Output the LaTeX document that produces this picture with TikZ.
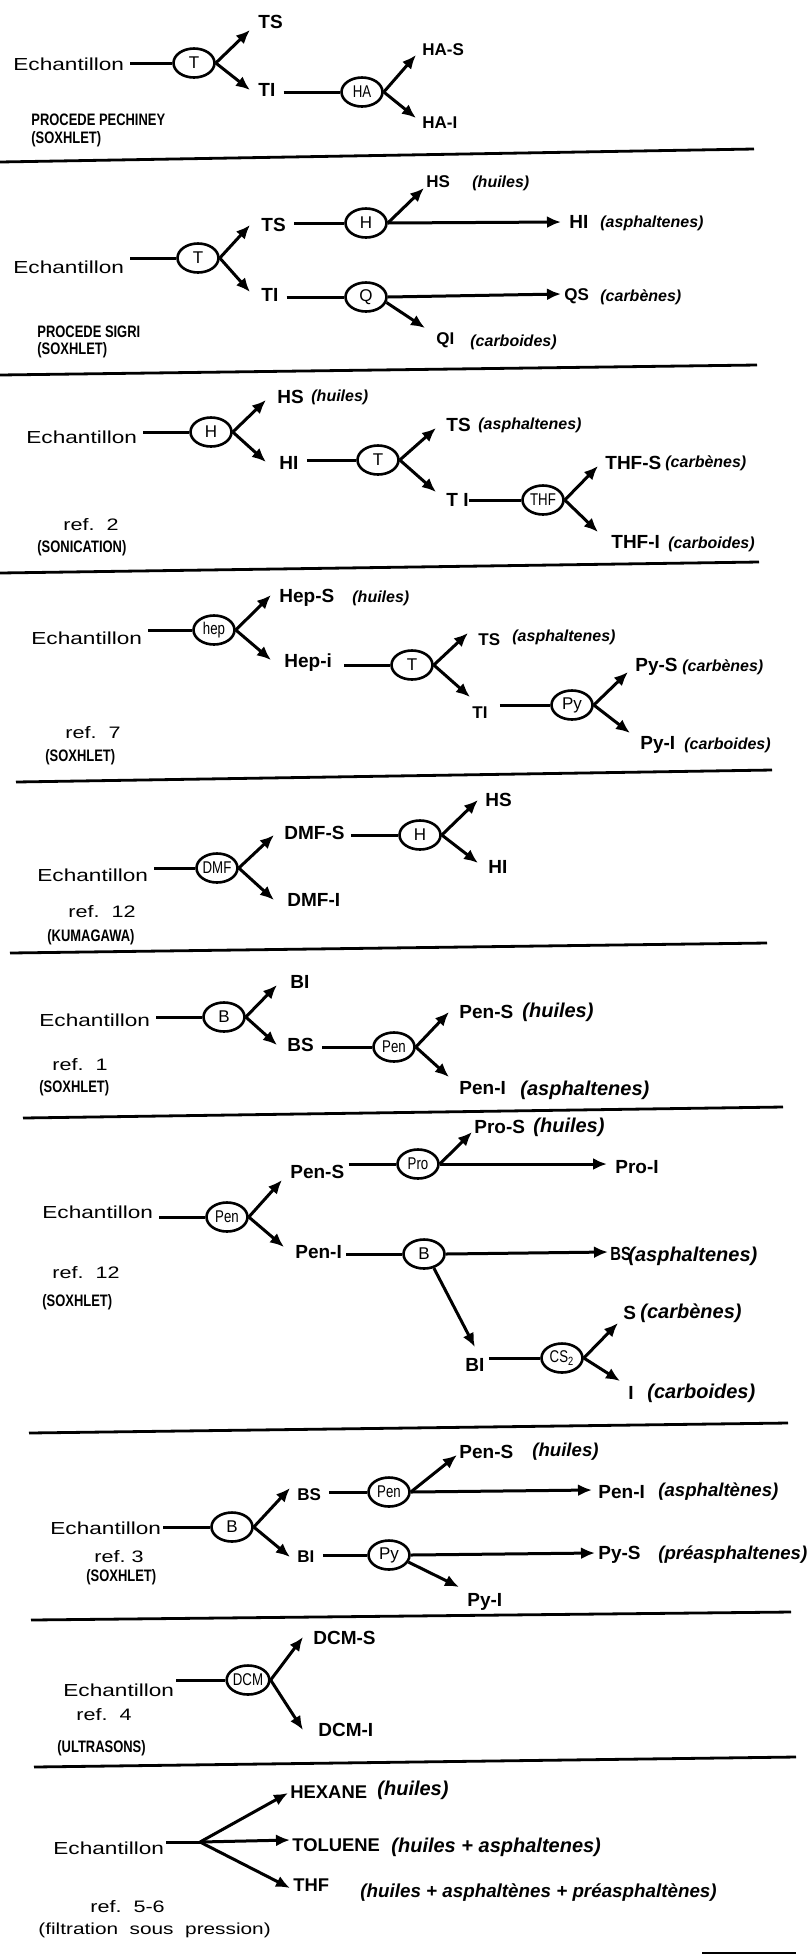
\documentclass[tikz,border=0pt]{standalone}
\usepackage{fontspec}
\setmainfont{Liberation Sans}
\newfontfamily\narrowsans{Liberation Sans}[FakeStretch=0.78]
\newfontfamily\widesans{Liberation Sans}[FakeStretch=1.3]
\usetikzlibrary{arrows.meta,shapes.geometric}
\begin{document}
\begin{tikzpicture}[x=0.5pt,y=-0.5pt,
 ln/.style={line width=1.5pt},
 arr/.style={line width=1.5pt,-{Latex[length=7pt,width=6pt]}},
 solv/.style={ellipse,draw,line width=1.3pt,minimum width=20.5pt,minimum height=14.5pt,inner sep=0pt,font=\fontsize{8.5}{9}\selectfont},
 solvn/.style={solv,font=\narrowsans\fontsize{8.5}{9}\selectfont},
 ech/.style={anchor=west,inner sep=0pt,font=\widesans\fontsize{8.7}{10}\selectfont},
 prod/.style={anchor=west,inner sep=0pt,font=\bfseries\fontsize{9.5}{11}\selectfont},
 prods/.style={anchor=west,inner sep=0pt,font=\bfseries\fontsize{8.5}{10}\selectfont},
 note/.style={anchor=west,inner sep=0pt,font=\bfseries\itshape\fontsize{8}{10}\selectfont},
 noteL/.style={anchor=west,inner sep=0pt,font=\bfseries\itshape\fontsize{10}{11}\selectfont},
 noteM/.style={anchor=west,inner sep=0pt,font=\bfseries\itshape\fontsize{9.3}{11}\selectfont},
 proc/.style={anchor=west,inner sep=0pt,font=\narrowsans\bfseries\fontsize{8.3}{10}\selectfont},
 refl/.style={anchor=west,inner sep=0pt,font=\widesans\fontsize{8.3}{10}\selectfont},
 divider/.style={line width=1.4pt}]
\useasboundingbox (0,0) rectangle (808,1955);

% ---------- Section 1 ----------
\node[ech] (E1) at (13,64) {Echantillon};
\node[solv] (T1) at (194,63) {T};
\node[prod] (TS1) at (258,22) {TS};
\node[prod] (TI1) at (258,90) {TI};
\node[solvn] (HA1) at (362,92) {HA};
\node[prods] (HAS1) at (422,50) {HA-S};
\node[prods] (HAI1) at (422,123) {HA-I};
\node[proc] (P1a) at (31,120) {PROCEDE PECHINEY};
\node[proc] (P1b) at (31,139) {(SOXHLET)};
\draw[ln,shorten <=3pt] (E1.east |- T1) -- (T1.west);
\draw[arr] (T1.east) -- ([shift={(-8,8)}]TS1.west);
\draw[arr] (T1.east) -- ([shift={(-8,0)}]TI1.west);
\draw[ln,shorten <=4pt] (TI1.east |- HA1) -- (HA1.west);
\draw[arr] (HA1.east) -- ([shift={(-6,5)}]HAS1.west);
\draw[arr] (HA1.east) -- ([shift={(-6,-5)}]HAI1.west);
\draw[divider] (0,162) -- (754,149);

% ---------- Section 2 ----------
\node[ech] (E2) at (13,267) {Echantillon};
\node[solv] (T2) at (198,258) {T};
\node[prod] (TS2) at (261,225) {TS};
\node[prod] (TI2) at (261,295) {TI};
\node[solv] (H2) at (366,223) {H};
\node[prods] (HS2) at (426,182) {HS};
\node[note] (n2a) at (472,183) {(huiles)};
\node[prod] (HI2) at (569,222) {HI};
\node[note] (n2b) at (600,223) {(asphaltenes)};
\node[solv] (Q2) at (366,297) {Q};
\node[prods] (QS2) at (564,296) {QS};
\node[note] (n2c) at (600,297) {(carbènes)};
\node[prods] (QI2) at (436,340) {QI};
\node[note] (n2d) at (470,342) {(carboides)};
\node[proc] (P2a) at (37,332) {PROCEDE SIGRI};
\node[proc] (P2b) at (37,350) {(SOXHLET)};
\draw[ln,shorten <=3pt] (E2.east |- T2) -- (T2.west);
\draw[arr] (T2.east) -- ([shift={(-11,0)}]TS2.west);
\draw[arr] (T2.east) -- ([shift={(-11,-3)}]TI2.west);
\draw[ln,shorten <=4pt] (TS2.east |- H2) -- (H2.west);
\draw[ln,shorten <=4pt] (TI2.east |- Q2) -- (Q2.west);
\draw[arr] (H2.east) -- ([shift={(-2,6)}]HS2.west);
\draw[arr] (H2.east) -- ([shift={(-8,0)}]HI2.west);
\draw[arr] (Q2.east) -- ([shift={(-3,-2)}]QS2.west);
\draw[arr] (Q2.-15) -- ([shift={(-11,-12)}]QI2.west);
\draw[divider] (0,375) -- (757,365);

% ---------- Section 3 ----------
\node[ech] (E3) at (26,437) {Echantillon};
\node[solv] (H3) at (211,432) {H};
\node[prod] (HS3) at (277,397) {HS};
\node[note] (n3a) at (311,397) {(huiles)};
\node[prod] (HI3) at (279,463) {HI};
\node[solv] (T3) at (378,460) {T};
\node[prod] (TS3) at (446,425) {TS};
\node[note] (n3b) at (478,425) {(asphaltenes)};
\node[prod] (TI3) at (446,500) {T I};
\node[solvn] (THF3) at (543,500) {THF};
\node[prod] (THFS3) at (605,463) {THF-S};
\node[note] (n3c) at (665,463) {(carbènes)};
\node[prod] (THFI3) at (611,542) {THF-I};
\node[note] (n3d) at (668,544) {(carboides)};
\node[refl] (R3a) at (63,525) {ref.\ \ 2};
\node[proc] (R3b) at (37,548) {(SONICATION)};
\draw[ln,shorten <=3pt] (E3.east |- H3) -- (H3.west);
\draw[arr] (H3.east) -- ([shift={(-11,3)}]HS3.west);
\draw[arr] (H3.east) -- ([shift={(-13,-1)}]HI3.west);
\draw[ln,shorten <=4pt] (HI3.east |- T3) -- (T3.west);
\draw[arr] (T3.east) -- ([shift={(-10,3)}]TS3.west);
\draw[arr] (T3.east) -- ([shift={(-10,-8)}]TI3.west);
\draw[ln] (TI3.east |- THF3) -- (THF3.west);
\draw[arr] (THF3.east) -- ([shift={(-7,3)}]THFS3.west);
\draw[arr] (THF3.east) -- ([shift={(-13,-10)}]THFI3.west);
\draw[divider] (0,573) -- (759,562);

% ---------- Section 4 ----------
\node[ech] (E4) at (31,638) {Echantillon};
\node[solvn] (HEP4) at (214,630) {hep};
\node[prod] (HepS4) at (279,598) {Hep-S};
\node[note] (n4a) at (352,598) {(huiles)};
\node[prod] (Hepi4) at (284,663) {Hep-i};
\node[solv] (T4) at (412,665) {T};
\node[prods] (TS4) at (478,640) {TS};
\node[note] (n4b) at (512,637) {(asphaltenes)};
\node[prods] (TI4) at (472,713) {TI};
\node[solv] (Py4) at (572,705) {Py};
\node[prod] (PyS4) at (635,667) {Py-S};
\node[note] (n4c) at (682,667) {(carbènes)};
\node[prod] (PyI4) at (640,745) {Py-I};
\node[note] (n4d) at (684,745) {(carboides)};
\node[refl] (R4a) at (65,733) {ref.\ \ 7};
\node[proc] (R4b) at (45,757) {(SOXHLET)};
\draw[ln,shorten <=3pt] (E4.east |- HEP4) -- (HEP4.west);
\draw[arr] (HEP4.east) -- ([shift={(-8,-3)}]HepS4.west);
\draw[arr] (HEP4.east) -- ([shift={(-13,-3)}]Hepi4.west);
\draw[ln,shorten <=6pt] (Hepi4.east |- T4) -- (T4.west);
\draw[arr] (T4.east) -- ([shift={(-10,-7)}]TS4.west);
\draw[arr] (T4.east) -- ([shift={(-2,-16)}]TI4.west);
\draw[ln,shorten <=6pt] (TI4.east |- Py4) -- (Py4.west);
\draw[arr] (Py4.east) -- ([shift={(-7,5)}]PyS4.west);
\draw[arr] (Py4.east) -- ([shift={(-10,-12)}]PyI4.west);
\draw[divider] (16,782) -- (772,770);

% ---------- Section 5 ----------
\node[ech] (E5) at (37,875) {Echantillon};
\node[solvn] (DMF5) at (217,868) {DMF};
\node[prod] (DMFS5) at (284,833) {DMF-S};
\node[prod] (DMFI5) at (287,900) {DMF-I};
\node[solv] (H5) at (420,835) {H};
\node[prod] (HS5) at (485,800) {HS};
\node[prod] (HI5) at (488,867) {HI};
\node[refl] (R5a) at (68,912) {ref.\ \ 12};
\node[proc] (R5b) at (47,937) {(KUMAGAWA)};
\draw[ln,shorten <=3pt] (E5.east |- DMF5) -- (DMF5.west);
\draw[arr] (DMF5.east) -- ([shift={(-10,2)}]DMFS5.west);
\draw[arr] (DMF5.east) -- ([shift={(-13,0)}]DMFI5.west);
\draw[ln,shorten <=3pt] (DMFS5.east |- H5) -- (H5.west);
\draw[arr] (H5.east) -- ([shift={(-7,0)}]HS5.west);
\draw[arr] (H5.east) -- ([shift={(-10,-4)}]HI5.west);
\draw[divider] (10,953) -- (767,943);

% ---------- Section 6 ----------
\node[ech] (E6) at (39,1020) {Echantillon};
\node[solv] (B6) at (224,1017) {B};
\node[prod] (BI6) at (290,982) {BI};
\node[prod] (BS6) at (287,1045) {BS};
\node[solvn] (Pen6) at (394,1047) {Pen};
\node[prod] (PenS6) at (459,1012) {Pen-S};
\node[noteL] (n6a) at (522,1012) {(huiles)};
\node[prod] (PenI6) at (459,1088) {Pen-I};
\node[noteL] (n6b) at (520,1090) {(asphaltenes)};
\node[refl] (R6a) at (52,1065) {ref.\ \ 1};
\node[proc] (R6b) at (39,1088) {(SOXHLET)};
\draw[ln,shorten <=3pt] (E6.east |- B6) -- (B6.west);
\draw[arr] (B6.east) -- ([shift={(-13,3)}]BI6.west);
\draw[arr] (B6.east) -- ([shift={(-10,0)}]BS6.west);
\draw[ln,shorten <=4pt] (BS6.east |- Pen6) -- (Pen6.west);
\draw[arr] (Pen6.east) -- ([shift={(-10,0)}]PenS6.west);
\draw[arr] (Pen6.east) -- ([shift={(-10,-11)}]PenI6.west);
\draw[divider] (23,1118) -- (783,1107);

% ---------- Section 7 ----------
\node[ech] (E7) at (42,1212) {Echantillon};
\node[solvn] (Pen7) at (227,1217) {Pen};
\node[prod] (PenS7) at (290,1172) {Pen-S};
\node[prod] (PenI7) at (295,1252) {Pen-I};
\node[solvn] (Pro7) at (418,1164) {Pro};
\node[prod] (ProS7) at (474,1127) {Pro-S};
\node[noteL] (n7a) at (533,1127) {(huiles)};
\node[prod] (ProI7) at (615,1167) {Pro-I};
\node[solv] (B7) at (424,1254) {B};
\node[prod,font=\narrowsans\bfseries\fontsize{9.5}{11}\selectfont] (BS7) at (610,1254) {BS};
\node[noteL] (n7b) at (628,1256) {(asphaltenes)};
\node[prod] (BI7) at (465,1365) {BI};
\node[solvn] (CS7) at (562,1358) {CS\textsubscript{2}};
\node[prod] (S7) at (623,1313) {S};
\node[noteL] (n7c) at (640,1313) {(carbènes)};
\node[prod] (I7) at (628,1393) {I};
\node[noteL] (n7d) at (647,1393) {(carboides)};
\node[refl] (R7a) at (52,1273) {ref.\ \ 12};
\node[proc] (R7b) at (42,1302) {(SOXHLET)};
\draw[ln,shorten <=3pt] (E7.east |- Pen7) -- (Pen7.west);
\draw[arr] (Pen7.east) -- ([shift={(-8,8)}]PenS7.west);
\draw[arr] (Pen7.east) -- ([shift={(-11,-5)}]PenI7.west);
\draw[ln,shorten <=2pt] (PenS7.east |- Pro7) -- (Pro7.west);
\draw[arr] (Pro7.east) -- ([shift={(-2,5)}]ProS7.west);
\draw[arr] (Pro7.east) -- ([shift={(-8,-3)}]ProI7.west);
\draw[ln,shorten <=2pt] (PenI7.east |- B7) -- (B7.west);
\draw[arr] (B7.east) -- ([shift={(-2,-2)}]BS7.west);
\draw[arr] (B7.-55) -- ([shift={(0,-11)}]BI7.north);
\draw[ln,shorten <=2pt] (BI7.east |- CS7) -- (CS7.west);
\draw[arr] (CS7.east) -- ([shift={(-5,10)}]S7.west);
\draw[arr] (CS7.east) -- ([shift={(-8,-12)}]I7.west);
\draw[divider] (29,1433) -- (788,1423);

% ---------- Section 8 ----------
\node[ech] (E8) at (50,1528) {Echantillon};
\node[solv] (B8) at (232,1527) {B};
\node[prods] (BS8) at (297,1495) {BS};
\node[prods] (BI8) at (297,1557) {BI};
\node[solvn] (Pen8) at (389,1492) {Pen};
\node[prod] (PenS8) at (459,1452) {Pen-S};
\node[noteM] (n8a) at (532,1452) {(huiles)};
\node[prod] (PenI8) at (598,1492) {Pen-I};
\node[noteM] (n8b) at (658,1492) {(asphaltènes)};
\node[solv] (Py8) at (389,1555) {Py};
\node[prod] (PyS8) at (598,1555) {Py-S};
\node[noteM] (n8c) at (658,1555) {(préasphaltenes)};
\node[prod] (PyI8) at (467,1602) {Py-I};
\node[refl] (R8a) at (94,1557) {ref.\ 3};
\node[proc] (R8b) at (86,1577) {(SOXHLET)};
\draw[ln,shorten <=1pt] (E8.east |- B8) -- (B8.west);
\draw[arr] (B8.east) -- ([shift={(-7,-7)}]BS8.west);
\draw[arr] (B8.east) -- ([shift={(-7,0)}]BI8.west);
\draw[ln,shorten <=4pt] (BS8.east |- Pen8) -- (Pen8.west);
\draw[ln,shorten <=4pt] (BI8.east |- Py8) -- (Py8.west);
\draw[arr] (Pen8.east) -- ([shift={(-2,3)}]PenS8.west);
\draw[arr] (Pen8.east) -- ([shift={(-6,-2)}]PenI8.west);
\draw[arr] (Py8.east) -- ([shift={(-3,-2)}]PyS8.west);
\draw[arr] (Py8.-20) -- ([shift={(-8,-15)}]PyI8.west);
\draw[divider] (31,1620) -- (791,1612);

% ---------- Section 9 ----------
\node[ech] (E9) at (63,1690) {Echantillon};
\node[solvn] (DCM9) at (248,1680) {DCM};
\node[prod] (DCMS9) at (313,1638) {DCM-S};
\node[prod] (DCMI9) at (318,1730) {DCM-I};
\node[refl] (R9a) at (76,1715) {ref.\ \ 4};
\node[proc] (R9b) at (57,1748) {(ULTRASONS)};
\draw[ln,shorten <=1pt] (E9.east |- DCM9) -- (DCM9.west);
\draw[arr] (DCM9.east) -- ([shift={(-10,-1)}]DCMS9.west);
\draw[arr] (DCM9.east) -- ([shift={(-15,0)}]DCMI9.west);
\draw[divider] (34,1767) -- (796,1757);

% ---------- Section 10 ----------
\node[ech] (E10) at (53,1848) {Echantillon};
\coordinate (BR10) at (200,1842);
\node[prod,font=\bfseries\fontsize{9.2}{11}\selectfont] (HEX10) at (290,1792) {HEXANE};
\node[noteL] (n10a) at (377,1790) {(huiles)};
\node[prod,font=\bfseries\fontsize{9.2}{11}\selectfont] (TOL10) at (292,1845) {TOLUENE};
\node[noteL] (n10b) at (391,1847) {(huiles + asphaltenes)};
\node[prod,font=\bfseries\fontsize{9.2}{11}\selectfont] (THF10) at (293,1885) {THF};
\node[noteL,font=\bfseries\itshape\fontsize{9.4}{11}\selectfont] (n10c) at (360,1893) {(huiles + asphaltènes + préasphaltènes)};
\node[refl] (R10a) at (90,1907) {ref.\ \ 5-6};
\node[refl,font=\widesans\fontsize{8}{10}\selectfont] (R10b) at (38,1930) {(filtration\ \ sous\ \ pression)};
\draw[ln,shorten <=1pt] (E10.east |- BR10) -- (BR10);
\draw[arr] (BR10) -- ([shift={(-2,1)}]HEX10.west);
\draw[arr] (BR10) -- ([shift={(-2,-5)}]TOL10.west);
\draw[arr] (BR10) -- ([shift={(-3,3)}]THF10.west);
\draw[line width=0.8pt] (702,1953) -- (796,1953);
\end{tikzpicture}
\end{document}
